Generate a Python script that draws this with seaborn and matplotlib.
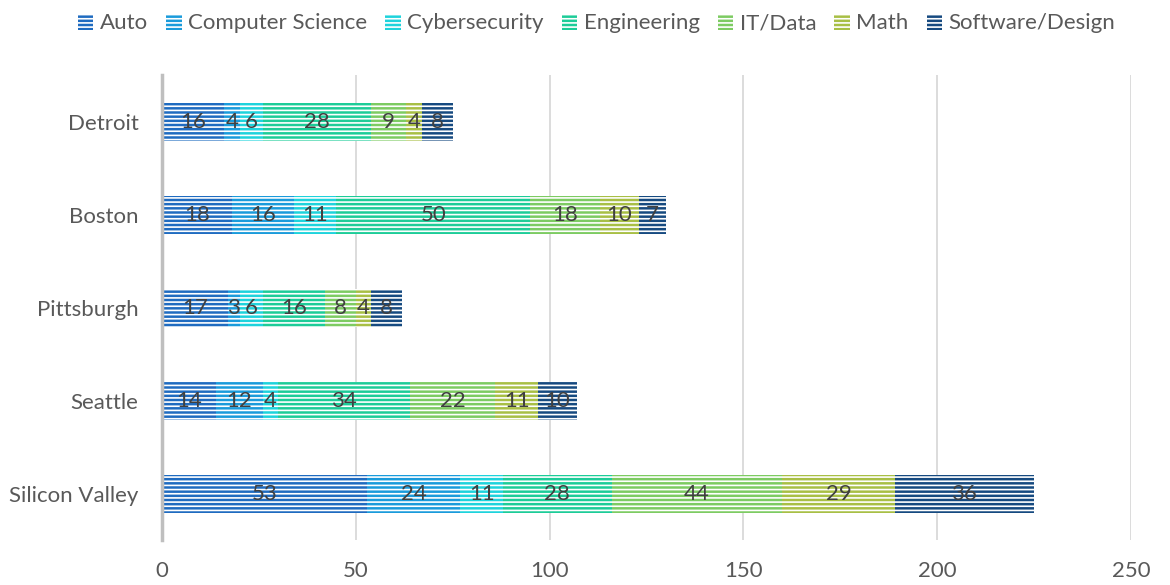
import matplotlib
matplotlib.use("Agg")
import matplotlib.pyplot as plt
import seaborn as sns
import numpy as np
import pandas as pd

cities = ["Detroit", "Boston", "Pittsburgh", "Seattle", "Silicon Valley"]
fields = ["Auto", "Computer Science", "Cybersecurity", "Engineering",
          "IT/Data", "Math", "Software/Design"]

auto = [16, 18, 17, 14, 53]
computer_science = [4, 16, 3, 12, 24]
cybersecurity = [6, 11, 6, 4, 11]
engineering = [28, 50, 16, 34, 28]
it_data = [9, 18, 8, 22, 44]
math_ = [4, 10, 4, 11, 29]
software_design = [8, 7, 8, 10, 36]

colors = ["#1F6BC0", "#1A9BDB", "#1ED3DC", "#1DCC98",
          "#7DCB62", "#A8BF45", "#164A80"]

series = [auto, computer_science, cybersecurity, engineering,
          it_data, math_, software_design]

sns.set_theme(style="white")
plt.rcParams["font.family"] = ["Lato", "DejaVu Sans"]
plt.rcParams["hatch.color"] = "white"
plt.rcParams["hatch.linewidth"] = 1.2

df = pd.DataFrame({"city": cities})
for name, vals in zip(fields, series):
    df[name] = vals
cum = df[fields].cumsum(axis=1)

fig = plt.figure(figsize=(11.7, 5.85), dpi=100)
ax = fig.add_axes([0.1385, 0.0769, 0.9667 - 0.1385, 0.871 - 0.0769])

# Stacked bars: draw cumulative totals from the outermost segment inward
for name, color in reversed(list(zip(fields, colors))):
    plot_df = pd.DataFrame({"city": cities, "value": cum[name].values})
    sns.barplot(data=plot_df, y="city", x="value", order=cities, orient="h",
                color=color, width=0.41, saturation=1, ax=ax,
                edgecolor="white", linewidth=0, hatch="----", label=name)

# Value labels centred in each segment
for i, city in enumerate(cities):
    for name in fields:
        v = df.loc[i, name]
        center = cum.loc[i, name] - v / 2
        ax.text(center, i, f"{v}", ha="center", va="center",
                fontsize=16, color="#404040")

ax.set_xlim(0, 250)
ax.set_xticks(np.arange(0, 251, 50))
ax.set_ylim(4.5, -0.5)
ax.set_xlabel("")
ax.set_ylabel("")
ax.xaxis.grid(True, color="#d9d9d9", linewidth=1.3)
ax.set_axisbelow(True)
for side in ["top", "right", "bottom"]:
    ax.spines[side].set_visible(False)
ax.spines["left"].set_color("#bfbfbf")
ax.spines["left"].set_linewidth(2.5)
ax.tick_params(axis="both", length=0, labelsize=16, labelcolor="#595959")
ax.tick_params(axis="y", pad=17)
ax.tick_params(axis="x", pad=15)

handles, labels = ax.get_legend_handles_labels()
order = [labels.index(f) for f in fields]
leg = fig.legend([handles[k] for k in order], [labels[k] for k in order],
                 loc="center", bbox_to_anchor=(0.51, 0.96), ncol=7,
                 frameon=False, fontsize=16, handlelength=0.7,
                 handleheight=0.75, handletextpad=0.3, columnspacing=0.8)
for t in leg.get_texts():
    t.set_color("#595959")
if ax.get_legend() is not None:
    ax.get_legend().remove()

fig.savefig("out.png", dpi=100)
